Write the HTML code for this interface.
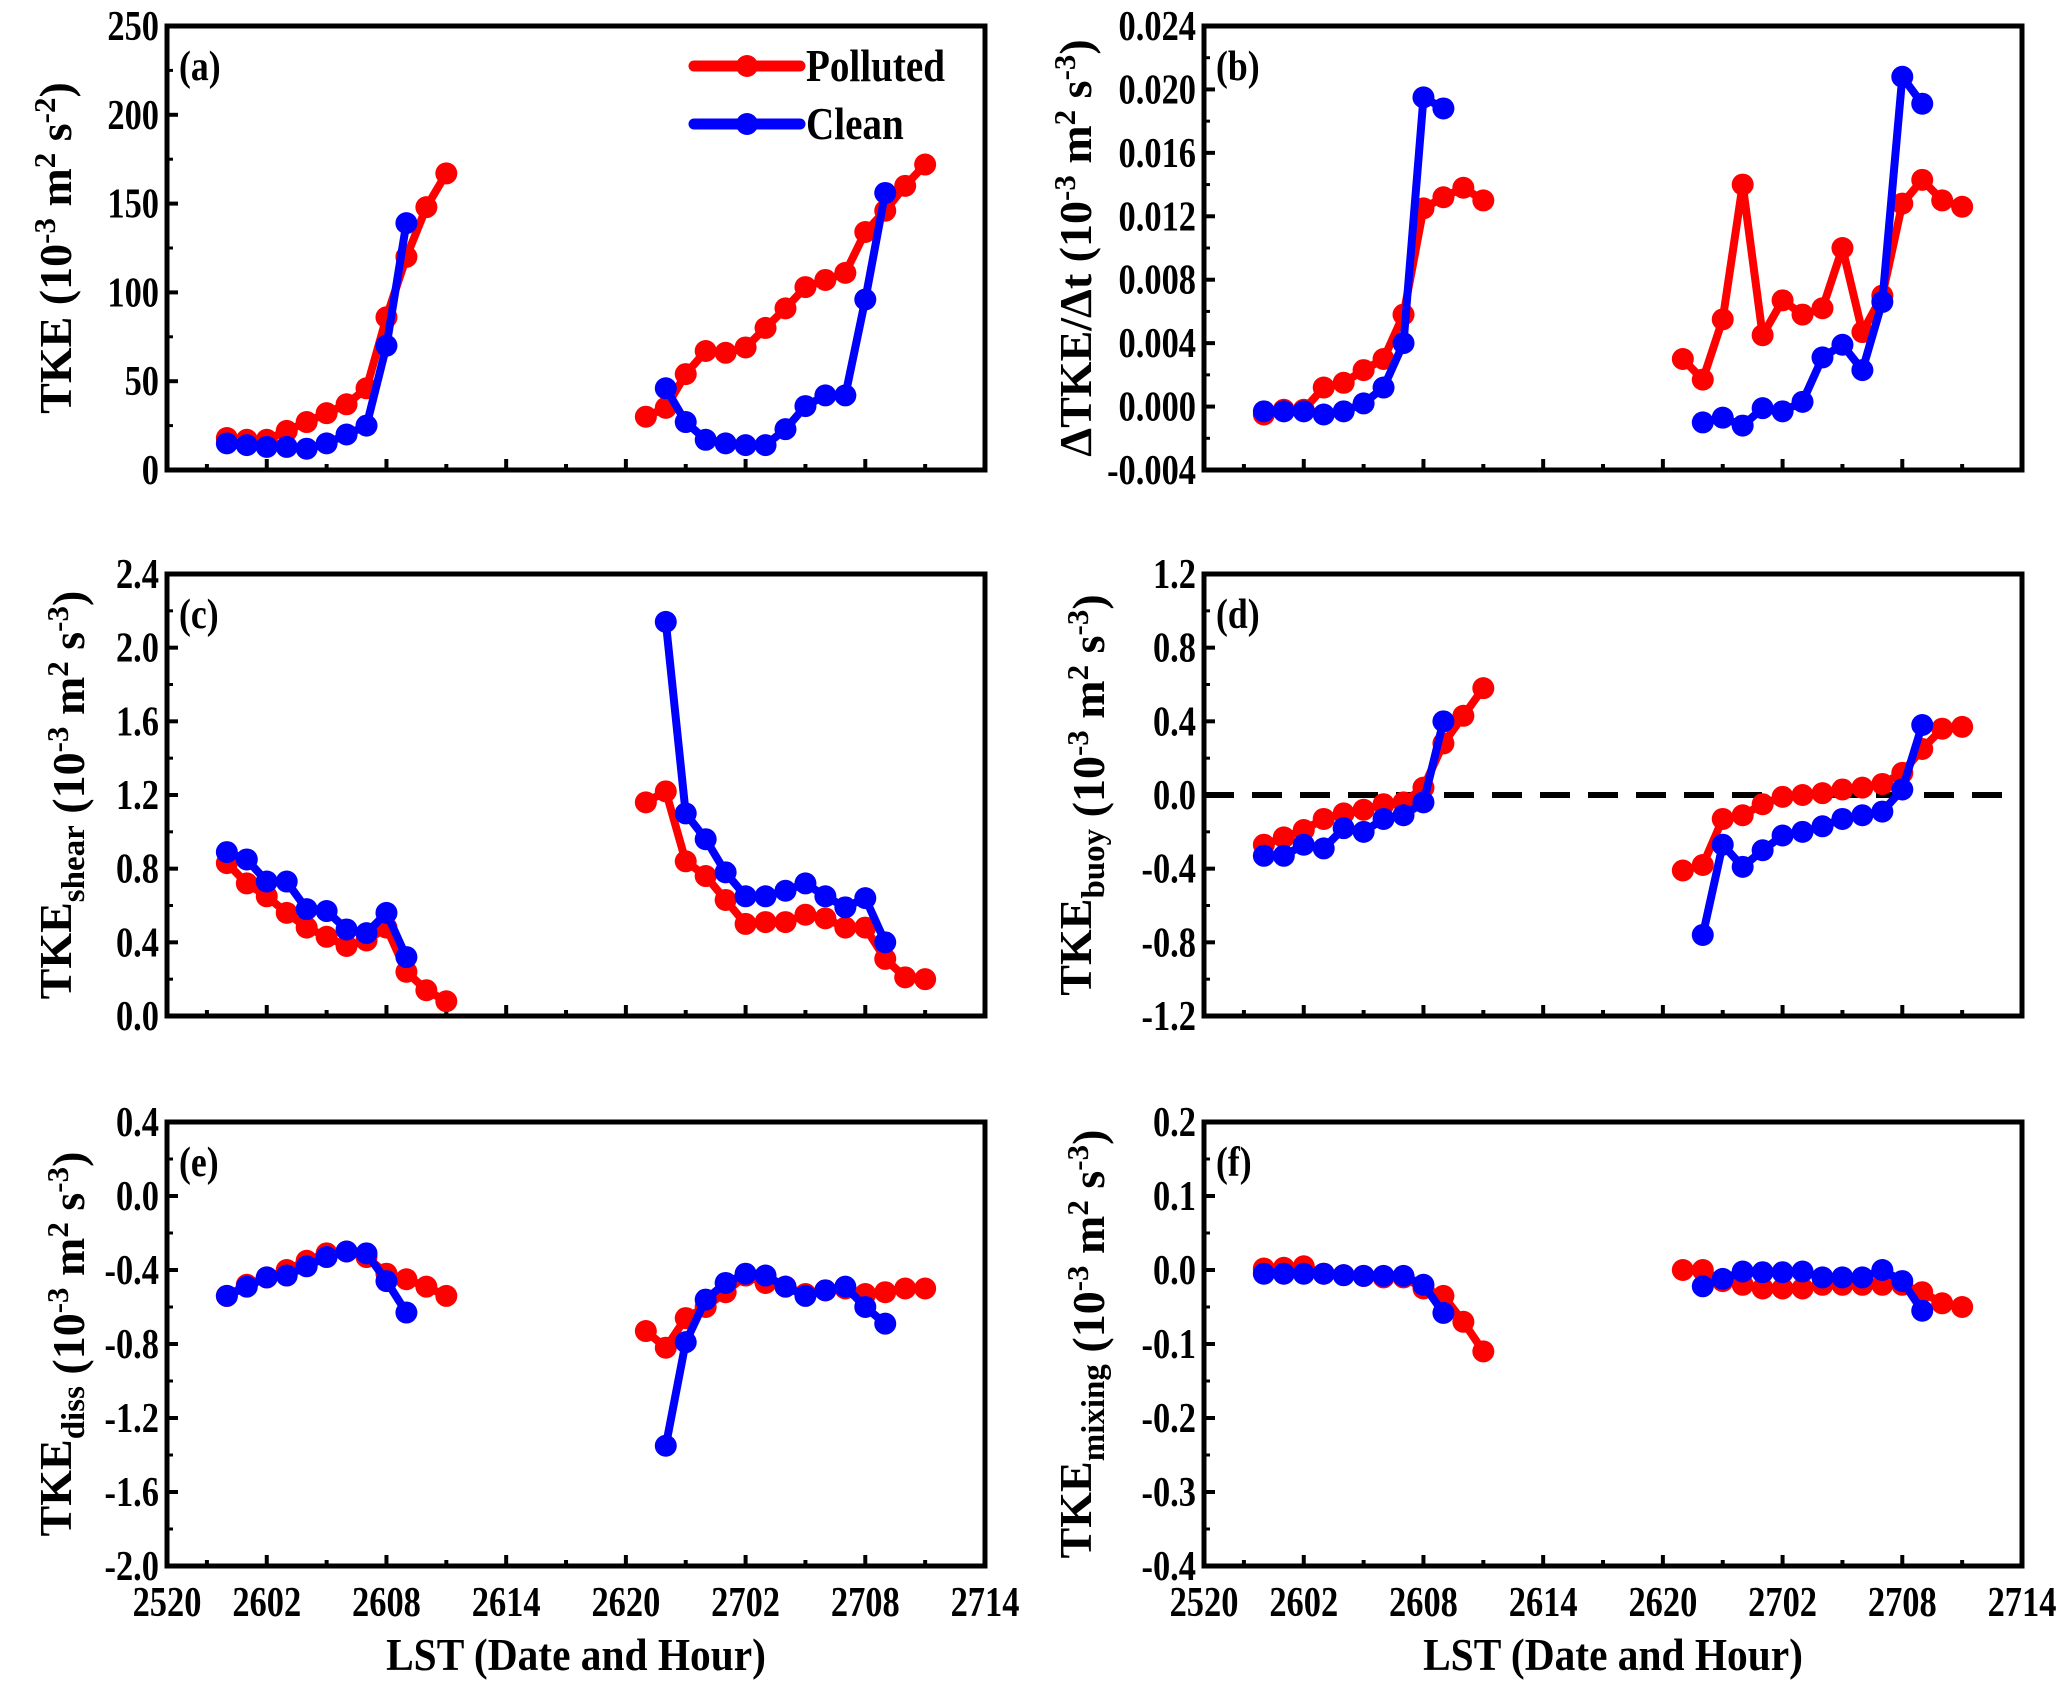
<!DOCTYPE html>
<html><head><meta charset="utf-8">
<style>
html,body{margin:0;padding:0;background:#fff;}
svg{display:block;font-family:"Liberation Serif",serif;font-weight:bold;}
</style></head>
<body>
<svg id="fig" width="2067" height="1691" viewBox="0 0 2067 1691" xmlns="http://www.w3.org/2000/svg"></svg>
<script>
// hours: 2602 = hour 6; axis spans hour 1..42
const xTickLabels = ["2520","2602","2608","2614","2620","2702","2708","2714"];
const xTickHours = [1,6,12,18,24,30,36,42];
const polHours1 = [4,5,6,7,8,9,10,11,12,13,14,15];
const clnHours1 = [4,5,6,7,8,9,10,11,12,13];
const polHours2 = [25,26,27,28,29,30,31,32,33,34,35,36,37,38,39];
const clnHours2 = [26,27,28,29,30,31,32,33,34,35,36,37];

const aPol1 = [18,17,17,22,27,32,37,46,86,120,148,167];
const aCln1 = [15,14,13,13,12,15,20,25,70,139];
const aPol2 = [30,35,54,67,66,69,80,91,103,107,111,134,146,160,172];
const aCln2 = [46,27,17,15,14,14,23,36,42,42,96,156];

const bPol1 = [-0.0005,-0.0002,-0.0002,0.0012,0.0015,0.0023,0.003,0.0058,0.0125,0.0132,0.0138,0.013];
const bCln1 = [-0.0003,-0.0003,-0.0003,-0.0005,-0.0003,0.0002,0.0012,0.004,0.0195,0.0188];
const bPol2 = [0.003,0.0017,0.0055,0.014,0.0045,0.0067,0.0058,0.0062,0.01,0.0047,0.007,0.0128,0.0143,0.013,0.0126];
const bCln2 = [-0.001,-0.0007,-0.0012,-0.0001,-0.0003,0.0003,0.0031,0.0039,0.0023,0.0066,0.0208,0.0191];

const cPol1 = [0.83,0.72,0.65,0.56,0.48,0.43,0.38,0.41,0.48,0.24,0.14,0.08];
const cCln1 = [0.89,0.85,0.73,0.73,0.58,0.57,0.47,0.45,0.56,0.32];
const cPol2 = [1.16,1.22,0.84,0.76,0.63,0.5,0.51,0.51,0.55,0.53,0.48,0.48,0.31,0.21,0.2];
const cCln2 = [2.14,1.1,0.96,0.78,0.65,0.65,0.68,0.72,0.65,0.59,0.64,0.4];

const dPol1 = [-0.27,-0.23,-0.19,-0.13,-0.1,-0.08,-0.05,-0.04,0.04,0.28,0.43,0.58];
const dCln1 = [-0.33,-0.33,-0.27,-0.29,-0.18,-0.2,-0.13,-0.11,-0.04,0.4];
const dPol2 = [-0.41,-0.38,-0.13,-0.11,-0.05,-0.01,0.0,0.01,0.03,0.04,0.06,0.12,0.25,0.36,0.37];
const dCln2 = [-0.76,-0.27,-0.39,-0.3,-0.22,-0.2,-0.17,-0.13,-0.11,-0.09,0.03,0.38];

const ePol1 = [-0.54,-0.48,-0.44,-0.4,-0.35,-0.31,-0.3,-0.33,-0.42,-0.45,-0.49,-0.54];
const eCln1 = [-0.54,-0.49,-0.44,-0.43,-0.38,-0.33,-0.3,-0.31,-0.46,-0.63];
const ePol2 = [-0.73,-0.82,-0.66,-0.6,-0.52,-0.43,-0.47,-0.49,-0.53,-0.51,-0.5,-0.53,-0.52,-0.5,-0.5];
const eCln2 = [-1.35,-0.79,-0.56,-0.47,-0.42,-0.43,-0.49,-0.54,-0.51,-0.49,-0.6,-0.69];

const fPol1 = [0.002,0.003,0.005,-0.005,-0.007,-0.008,-0.01,-0.01,-0.025,-0.035,-0.07,-0.11];
const fCln1 = [-0.005,-0.005,-0.005,-0.005,-0.007,-0.008,-0.008,-0.008,-0.02,-0.058];
const fPol2 = [0,0,-0.015,-0.02,-0.025,-0.025,-0.025,-0.02,-0.02,-0.02,-0.02,-0.02,-0.03,-0.045,-0.05];
const fCln2 = [-0.022,-0.012,-0.002,-0.003,-0.003,-0.002,-0.01,-0.01,-0.01,0.0,-0.015,-0.055];

const aTicks = ["0","50","100","150","200","250"];
const bTicks = ["-0.004","0.000","0.004","0.008","0.012","0.016","0.020","0.024"];
const cTicks = ["0.0","0.4","0.8","1.2","1.6","2.0","2.4"];
const dTicks = ["-1.2","-0.8","-0.4","0.0","0.4","0.8","1.2"];
const eTicks = ["-2.0","-1.6","-1.2","-0.8","-0.4","0.0","0.4"];
const fTicks = ["-0.4","-0.3","-0.2","-0.1","0.0","0.1","0.2"];

const NS="http://www.w3.org/2000/svg";
const svg=document.getElementById('fig');
function mk(tag,attrs,parent){const e=document.createElementNS(NS,tag);for(const k in attrs)e.setAttribute(k,attrs[k]);(parent||svg).appendChild(e);return e;}

const SUP='<tspan dy="-16" font-size="31">';
function unit(p){return ' (10'+SUP+'-3</tspan><tspan dy="16"> m</tspan>'+SUP+'2</tspan><tspan dy="16"> s</tspan>'+SUP+p+'</tspan><tspan dy="16">)</tspan>';}
function sub(s){return 'TKE<tspan dy="13" font-size="33">'+s+'</tspan><tspan dy="-13"></tspan>';}

const panels=[
 {id:'a',x0:167,x1:985,y0:26,y1:470,ticks:aTicks,p1:aPol1,c1:aCln1,p2:aPol2,c2:aCln2,lab:'(a)',ytitle:'TKE'+unit('-2'),tx:55,legend:true,xlab:false},
 {id:'b',x0:1204,x1:2022,y0:26,y1:470,ticks:bTicks,p1:bPol1,c1:bCln1,p2:bPol2,c2:bCln2,lab:'(b)',ytitle:'ΔTKE/Δt'+unit('-3'),tx:1075,xlab:false},
 {id:'c',x0:167,x1:985,y0:574,y1:1016,ticks:cTicks,p1:cPol1,c1:cCln1,p2:cPol2,c2:cCln2,lab:'(c)',ytitle:sub('shear')+unit('-3'),tx:55,xlab:false},
 {id:'d',x0:1204,x1:2022,y0:574,y1:1016,ticks:dTicks,p1:dPol1,c1:dCln1,p2:dPol2,c2:dCln2,lab:'(d)',ytitle:sub('buoy')+unit('-3'),tx:1075,dashed:true,xlab:false},
 {id:'e',x0:167,x1:985,y0:1122,y1:1566,ticks:eTicks,p1:ePol1,c1:eCln1,p2:ePol2,c2:eCln2,lab:'(e)',ytitle:sub('diss')+unit('-3'),tx:55,xlab:true},
 {id:'f',x0:1204,x1:2022,y0:1122,y1:1566,ticks:fTicks,p1:fPol1,c1:fCln1,p2:fPol2,c2:fCln2,lab:'(f)',ytitle:sub('mixing')+unit('-3'),tx:1075,xlab:true}
];

panels.forEach(P=>{
  const g=mk('g',{});
  
  
  const ymin=parseFloat(P.ticks[0]), ymax=parseFloat(P.ticks[P.ticks.length-1]);
  const X=h=>P.x0+(h-1)/41*(P.x1-P.x0);
  const Y=v=>P.y1-(v-ymin)/(ymax-ymin)*(P.y1-P.y0);
  P.ticks.forEach((t,i)=>{
    const y=Y(parseFloat(t));
    const tk=mk('line',{x1:P.x0,x2:P.x0+11,y1:y,y2:y,stroke:'#000','stroke-width':4},g);
    
    
    const tl=mk('text',{x:0,y:0,'text-anchor':'end','font-size':42,transform:'translate('+(P.x0-8)+','+(y+14)+') scale(0.82,1)'},g);
    tl.textContent=t;
    
    
    if(i<P.ticks.length-1){
      const ym=(y+Y(parseFloat(P.ticks[i+1])))/2;
      mk('line',{x1:P.x0,x2:P.x0+6,y1:ym,y2:ym,stroke:'#000','stroke-width':3},g);
    }
  });
  for(let h=3;h<42;h+=3){
    const major=(h%6===0);
    mk('line',{x1:X(h),x2:X(h),y1:P.y1,y2:P.y1-(major?11:6),stroke:'#000','stroke-width':4},g);
  }
  if(P.xlab){
    xTickLabels.forEach((t,i)=>{
      const tl=mk('text',{x:0,y:0,'text-anchor':'middle','font-size':42,transform:'translate('+X(xTickHours[i])+','+(P.y1+50)+') scale(0.82,1)'},g);
      tl.textContent=t;
      
      
    });
    const xt=mk('text',{x:0,y:0,'text-anchor':'middle','font-size':46,transform:'translate('+((P.x0+P.x1)/2)+',1670) scale(0.9,1)'},g);
    xt.textContent='LST (Date and Hour)';
    
    
  }
  if(P.dashed){
    const dl=mk('line',{x1:P.x0,x2:P.x1,y1:Y(0),y2:Y(0),stroke:'#000','stroke-width':6,'stroke-dasharray':'30,18'},g);
    
    
  }
  const series=[[polHours1,P.p1,'#f00','polluted'],[polHours2,P.p2,'#f00','polluted'],[clnHours1,P.c1,'#00f','clean'],[clnHours2,P.c2,'#00f','clean']];
  series.forEach(s=>{
    const pts=s[0].map((h,i)=>X(h).toFixed(1)+','+Y(s[1][i]).toFixed(1)).join(' ');
    const pl=mk('polyline',{points:pts,fill:'none',stroke:s[2],'stroke-width':8,'stroke-linejoin':'round'},g);
    
    
    s[0].forEach((h,i)=>{
      const c=mk('circle',{cx:X(h),cy:Y(s[1][i]),r:11,fill:s[2]},g);
      
      
    });
  });
  const fr=mk('rect',{x:P.x0,y:P.y0,width:P.x1-P.x0,height:P.y1-P.y0,fill:'none',stroke:'#000','stroke-width':5},g);
  
  
  const pl=mk('text',{x:0,y:0,'font-size':42,transform:'translate('+(P.x0+12)+','+(P.y0+54)+') scale(0.85,1)'},g);
  pl.textContent=P.lab;
  
  
  const cy=(P.y0+P.y1)/2;
  const yt=mk('text',{x:0,y:0,'text-anchor':'middle','font-size':46,transform:'translate('+(P.tx+16)+','+cy+') rotate(-90)'},g);
  yt.innerHTML=P.ytitle;
  
  
  if(P.legend){
    [['Polluted','#f00',66],['Clean','#00f',124]].forEach(L=>{
      const lg=mk('g',{},g);
      
      
      mk('line',{x1:694,x2:800,y1:L[2],y2:L[2],stroke:L[1],'stroke-width':11,'stroke-linecap':'round'},lg);
      mk('circle',{cx:747,cy:L[2],r:11,fill:L[1]},lg);
      const t=mk('text',{x:0,y:0,'font-size':46,transform:'translate(806,'+(L[2]+15)+') scale(0.85,1)'},lg);
      t.textContent=L[0];
    });
  }
});
</script>
</body></html>
